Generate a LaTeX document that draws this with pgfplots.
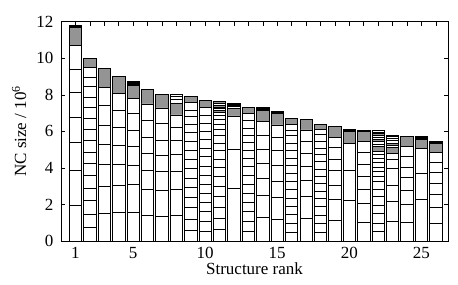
\documentclass[border=0pt]{standalone}
\usepackage{fontspec}
\setmainfont{Liberation Serif}
\usepackage{pgfplots}
\pgfplotsset{compat=1.18}
\pgfplotsset{
  seg/.style={ybar, bar width=0.86, bar shift=0pt, draw=black, line width=0.65pt, mark=none},
  W/.style={seg, fill=white},
  G/.style={seg, fill=black!42},
  K/.style={seg, fill=black},
}
\begin{document}
\begin{tikzpicture}
\begin{axis}[
  scale only axis, width=387pt, height=219.3pt,
  xmin=0, xmax=26.85, ymin=0, ymax=12,
  xtick={1,...,26},
  xticklabels={1,,,,5,,,,,10,,,,,15,,,,,20,,,,,25,},
  ytick={0,2,...,12},
  tick align=inside, major tick length=4pt,
  xtick pos=both, ytick pos=both,
  axis line style={line width=0.6pt},
  tick style={line width=0.5pt, black},
  /pgf/number format/assume math mode=true,
  ticklabel style={font=\fontsize{17}{20}\selectfont},
  xticklabel shift=2.5pt, yticklabel shift=4pt,
  label style={font=\fontsize{17}{20}\selectfont},
  xlabel={Structure rank},
  xlabel style={at={(axis description cs:0.5,-0.125)}, anchor=center},
  ylabel={NC size / 10\textsuperscript{6}},
  ylabel style={at={(axis description cs:-0.108,0.5)}, anchor=center, rotate=0},
]
% bar 1
\addplot[K] coordinates {(1,11.79)};
\addplot[G] coordinates {(1,11.68)};
\addplot[W] coordinates {(1,10.68) (1,9.42) (1,8.14) (1,6.75) (1,5.38) (1,3.89) (1,1.93)};
% bar 2
\addplot[G] coordinates {(2,10.00)};
\addplot[W] coordinates {(2,9.51) (2,8.98) (2,8.49) (2,7.88) (2,7.30) (2,6.70) (2,6.09) (2,5.49) (2,4.85) (2,4.26) (2,3.58) (2,2.90) (2,2.22) (2,1.46) (2,0.74)};
% bar 3
\addplot[G] coordinates {(3,9.45)};
\addplot[W] coordinates {(3,8.41) (3,7.41) (3,6.35) (3,5.30) (3,4.18) (3,2.99) (3,1.50)};
% bar 4
\addplot[G] coordinates {(4,9.00)};
\addplot[W] coordinates {(4,8.08) (4,7.15) (4,6.20) (4,5.22) (4,4.20) (4,3.07) (4,1.57)};
% bar 5
\addplot[K] coordinates {(5,8.72)};
\addplot[G] coordinates {(5,8.54)};
\addplot[W] coordinates {(5,7.81) (5,6.97) (5,6.07) (5,5.16) (5,4.16) (5,3.08) (5,1.58)};
% bar 6
\addplot[G] coordinates {(6,8.28)};
\addplot[W] coordinates {(6,7.50) (6,6.62) (6,5.69) (6,4.80) (6,3.85) (6,2.83) (6,1.41)};
% bar 7
\addplot[G] coordinates {(7,8.05)};
\addplot[W] coordinates {(7,7.28) (7,6.44) (7,5.53) (7,4.67) (7,3.80) (7,2.76) (7,1.35)};
% bar 8
\addplot[W] coordinates {(8,8.03) (8,7.90) (8,7.76)};
\addplot[G] coordinates {(8,7.53)};
\addplot[W] coordinates {(8,6.90) (8,6.22) (8,5.53) (8,4.75) (8,3.83) (8,2.82) (8,1.41)};
% bar 9
\addplot[G] coordinates {(9,7.92)};
\addplot[W] coordinates {(9,7.57) (9,7.17) (9,6.80) (9,6.40) (9,5.94) (9,5.44) (9,4.95) (9,4.47) (9,3.96) (9,3.45) (9,2.95) (9,2.40) (9,1.82) (9,1.21) (9,0.60)};
% bar 10
\addplot[G] coordinates {(10,7.68)};
\addplot[W] coordinates {(10,7.32) (10,6.90) (10,6.46) (10,6.02) (10,5.57) (10,5.09) (10,4.62) (10,4.11) (10,3.61) (10,3.12) (10,2.61) (10,2.10) (10,1.61) (10,1.08) (10,0.53)};
% bar 11
\addplot[G] coordinates {(11,7.65)};
\addplot[W] coordinates {(11,7.52)};
\addplot[G] coordinates {(11,7.42)};
\addplot[W] coordinates {(11,7.32) (11,7.24)};
\addplot[G] coordinates {(11,7.14)};
\addplot[W] coordinates {(11,7.03) (11,6.90) (11,6.66) (11,6.41) (11,6.11) (11,5.76) (11,5.35) (11,4.94) (11,4.47) (11,4.02) (11,3.52) (11,3.00) (11,2.43) (11,1.85) (11,1.23) (11,0.62)};
% bar 12
\addplot[K] coordinates {(12,7.55)};
\addplot[W] coordinates {(12,7.36)};
\addplot[G] coordinates {(12,7.28)};
\addplot[W] coordinates {(12,6.84) (12,5.03) (12,2.88)};
% bar 13
\addplot[G] coordinates {(13,7.32)};
\addplot[W] coordinates {(13,6.97) (13,6.58) (13,6.17) (13,5.78) (13,5.39) (13,4.97) (13,4.53) (13,4.07) (13,3.59) (13,3.09) (13,2.61) (13,2.11) (13,1.61) (13,1.08) (13,0.54)};
% bar 14
\addplot[K] coordinates {(14,7.29)};
\addplot[G] coordinates {(14,7.17)};
\addplot[W] coordinates {(14,6.53) (14,5.79) (14,5.02) (14,4.25) (14,3.43) (14,2.52) (14,1.30)};
% bar 15
\addplot[K] coordinates {(15,7.08)};
\addplot[G] coordinates {(15,6.96)};
\addplot[W] coordinates {(15,6.35) (15,5.67) (15,4.94) (15,4.16) (15,3.28) (15,2.37) (15,1.20)};
% bar 16
\addplot[G] coordinates {(16,6.72)};
\addplot[W] coordinates {(16,6.40) (16,6.08) (16,5.76) (16,5.35) (16,4.97) (16,4.55) (16,4.13) (16,3.68) (16,3.24) (16,2.82) (16,2.36) (16,1.90) (16,1.44) (16,0.99) (16,0.49)};
% bar 17
\addplot[G] coordinates {(17,6.68)};
\addplot[W] coordinates {(17,6.08) (17,5.44) (17,4.78) (17,4.11) (17,3.30) (17,2.43) (17,1.24)};
% bar 18
\addplot[G] coordinates {(18,6.39)};
\addplot[W] coordinates {(18,6.12) (18,5.84) (18,5.45) (18,5.09) (18,4.72) (18,4.34) (18,3.94) (18,3.54) (18,3.13) (18,2.73) (18,2.31) (18,1.88) (18,1.42) (18,0.95) (18,0.47)};
% bar 19
\addplot[G] coordinates {(19,6.26)};
\addplot[W] coordinates {(19,5.68) (19,5.11) (19,4.48) (19,3.84) (19,3.07) (19,2.26) (19,1.11)};
% bar 20
\addplot[K] coordinates {(20,6.13)};
\addplot[G] coordinates {(20,5.99)};
\addplot[W] coordinates {(20,5.35) (20,3.89) (20,2.20)};
% bar 21
\addplot[K] coordinates {(21,6.08)};
\addplot[G] coordinates {(21,5.99)};
\addplot[W] coordinates {(21,5.47) (21,4.84) (21,4.22) (21,3.56) (21,2.83) (21,2.06) (21,1.04)};
% bar 22
\addplot[W] coordinates {(22,6.06) (22,5.97)};
\addplot[G] coordinates {(22,5.88)};
\addplot[W] coordinates {(22,5.79) (22,5.68)};
\addplot[G] coordinates {(22,5.57)};
\addplot[W] coordinates {(22,5.44) (22,5.31)};
\addplot[G] coordinates {(22,5.16)};
\addplot[W] coordinates {(22,4.92) (22,4.76) (22,4.53) (22,4.30) (22,4.05) (22,3.80) (22,3.55) (22,3.25) (22,2.85) (22,2.42) (22,1.97) (22,1.51) (22,0.99) (22,0.51)};
% bar 23
\addplot[K] coordinates {(23,5.80)};
\addplot[W] coordinates {(23,5.71) (23,5.62) (23,5.50)};
\addplot[G] coordinates {(23,5.36)};
\addplot[W] coordinates {(23,5.22)};
\addplot[G] coordinates {(23,5.11)};
\addplot[W] coordinates {(23,4.80) (23,4.45) (23,3.98) (23,3.05) (23,2.15) (23,1.09)};
% bar 24
\addplot[G] coordinates {(24,5.75)};
\addplot[W] coordinates {(24,5.18) (24,4.62) (24,4.05) (24,3.49) (24,2.79) (24,2.02) (24,1.02)};
% bar 25
\addplot[K] coordinates {(25,5.71)};
\addplot[G] coordinates {(25,5.57)};
\addplot[W] coordinates {(25,5.07) (25,3.70) (25,2.27)};
% bar 26
\addplot[K] coordinates {(26,5.44)};
\addplot[G] coordinates {(26,5.33)};
\addplot[W] coordinates {(26,4.85) (26,4.33) (26,3.74) (26,3.16) (26,2.53) (26,1.83) (26,0.95)};
\coordinate (ll) at (rel axis cs:0,0);
\coordinate (ur) at (rel axis cs:1,1);
\end{axis}
\pgfresetboundingbox
\path ([shift={(-61pt,-43pt)}]ll) rectangle ([shift={(10pt,21.7pt)}]ur);
\end{tikzpicture}
\end{document}
